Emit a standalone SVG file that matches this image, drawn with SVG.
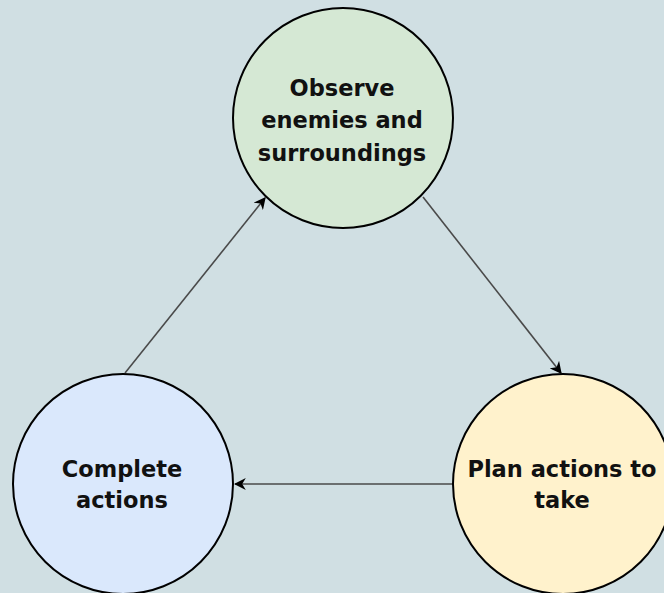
<svg xmlns="http://www.w3.org/2000/svg" width="664" height="593" viewBox="0 0 664 593">
<style>
.node{stroke:#000;stroke-width:2}
.lbl{font-family:"DejaVu Sans",Verdana,sans-serif;font-weight:bold;font-size:22.5px;fill:#111;text-anchor:middle}
.edge{stroke:#4a4a4a;stroke-width:1.6;fill:none;marker-end:url(#arr)}
</style>
<defs>
<marker id="arr" viewBox="0 0 10 10" refX="9" refY="5" markerWidth="12" markerHeight="12" markerUnits="userSpaceOnUse" orient="auto">
<path d="M0,0 L10,5 L0,10 L3,5 Z" fill="#000"/>
</marker>
</defs>
<rect width="664" height="593" fill="#d0dfe3"/>
<g id="connectors">
<line class="edge" x1="423" y1="197" x2="561" y2="373"/>
<line class="edge" x1="453" y1="484" x2="235" y2="484"/>
<line class="edge" x1="125" y1="373" x2="265" y2="198"/>
</g>
<g id="observe">
<circle class="node" cx="343" cy="118" r="110" fill="#d5e8d4"/>
<text class="lbl" x="342" y="96">Observe</text>
<text class="lbl" x="342" y="128">enemies and</text>
<text class="lbl" x="342" y="161">surroundings</text>
</g>
<g id="plan">
<circle class="node" cx="563" cy="484" r="110" fill="#fff2cc"/>
<text class="lbl" x="562" y="477">Plan actions to</text>
<text class="lbl" x="562" y="508">take</text>
</g>
<g id="complete">
<circle class="node" cx="123" cy="484" r="110" fill="#dae8fc"/>
<text class="lbl" x="122" y="477">Complete</text>
<text class="lbl" x="122" y="508">actions</text>
</g>
</svg>
